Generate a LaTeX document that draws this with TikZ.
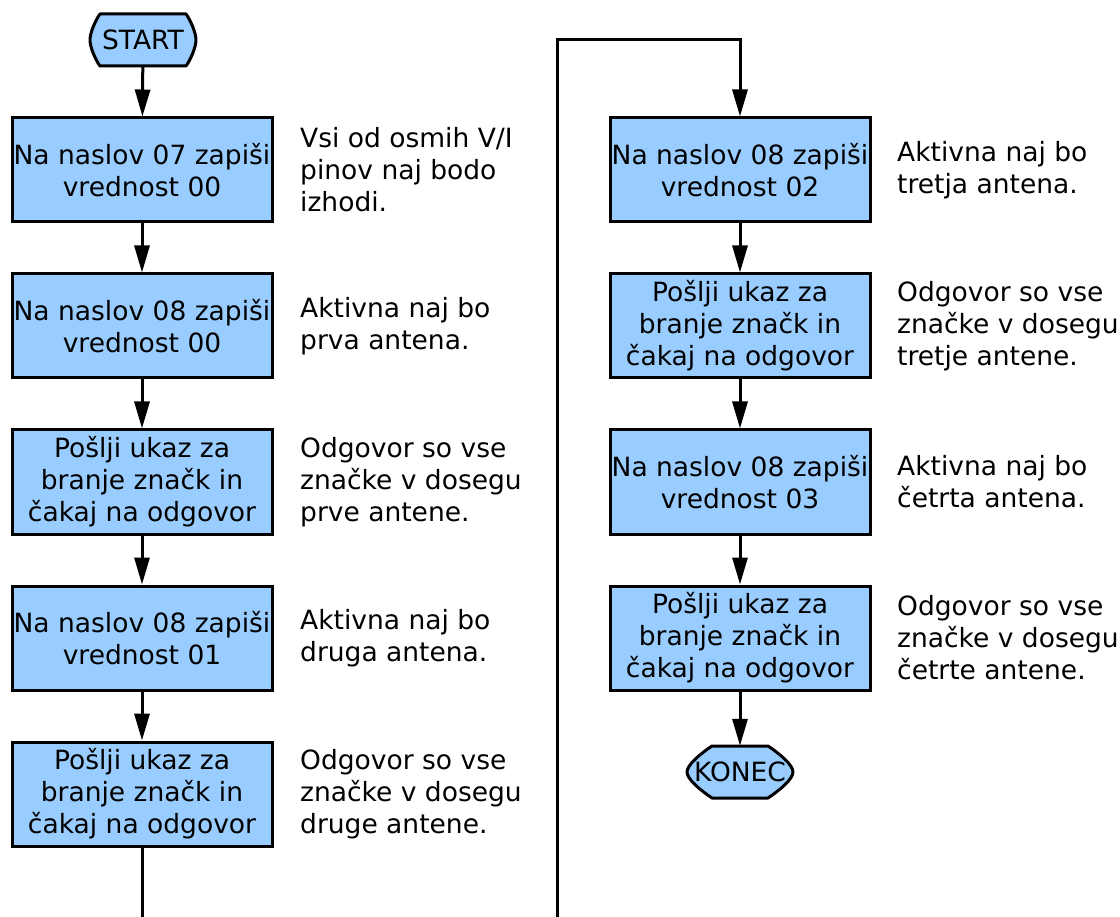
\documentclass[tikz,border=0pt]{standalone}
\usepackage{fontspec}
\setmainfont{DejaVu Sans}
\usetikzlibrary{arrows.meta}
\definecolor{boxblue}{HTML}{99CCFF}
\tikzset{
  every node/.style={font=\fontsize{26.5}{32}\selectfont, text=black},
  stepbox/.style={draw=black, fill=boxblue, line width=3pt, minimum width=260pt, minimum height=104pt, inner sep=0pt, align=center},
  termtext/.style={minimum width=106pt, minimum height=52pt, inner sep=0pt},
  termline/.style={draw=black, fill=boxblue, line width=3pt, line join=round},
  side/.style={anchor=west, align=left, inner sep=0pt},
  conn/.style={draw=black, line width=3pt},
  arr/.style={conn, -{Triangle[length=27pt,width=15pt]}}
}
\begin{document}
\begin{tikzpicture}[x=1pt,y=-1pt]
\useasboundingbox (0,0) rectangle (1120,917);
% terminals (shapes)
\path[termline] (100,14) -- (186,14) .. controls (191,21) and (196,33) .. (196,40) .. controls (196,47) and (191,59) .. (186,66) -- (100,66) .. controls (95,59) and (90,47) .. (90,40) .. controls (90,33) and (95,21) .. (100,14) -- cycle;
\node[termtext] (start) at (143,40) {START};
\path[termline] (712,746) -- (768,746) .. controls (780,754) and (793,765) .. (793,772) .. controls (793,779) and (780,790) .. (768,798) -- (712,798) .. controls (700,790) and (687,779) .. (687,772) .. controls (687,765) and (700,754) .. (712,746) -- cycle;
\node[termtext] (konec) at (740,772) {KONEC};
% left column
\node[stepbox] (l1) at (142,170) {Na naslov 07 zapiši\\vrednost 00};
\node[stepbox] (l2) at (142,326) {Na naslov 08 zapiši\\vrednost 00};
\node[stepbox] (l3) at (142,482) {Pošlji ukaz za\\branje značk in\\čakaj na odgovor};
\node[stepbox] (l4) at (142,638) {Na naslov 08 zapiši\\vrednost 01};
\node[stepbox] (l5) at (142,794) {Pošlji ukaz za\\branje značk in\\čakaj na odgovor};
\node[side] (t1) at (300,170) {Vsi od osmih V/I\\pinov naj bodo\\izhodi.};
\node[side] (t2) at (300,326) {Aktivna naj bo\\prva antena.};
\node[side] (t3) at (300,482) {Odgovor so vse\\značke v dosegu\\prve antene.};
\node[side] (t4) at (300,638) {Aktivna naj bo\\druga antena.};
\node[side] (t5) at (300,794) {Odgovor so vse\\značke v dosegu\\druge antene.};
% right column
\node[stepbox] (r1) at (740,170) {Na naslov 08 zapiši\\vrednost 02};
\node[stepbox] (r2) at (740,326) {Pošlji ukaz za\\branje značk in\\čakaj na odgovor};
\node[stepbox] (r3) at (740,482) {Na naslov 08 zapiši\\vrednost 03};
\node[stepbox] (r4) at (740,638) {Pošlji ukaz za\\branje značk in\\čakaj na odgovor};
\node[side] (s1) at (897,170) {Aktivna naj bo\\tretja antena.};
\node[side] (s2) at (897,326) {Odgovor so vse\\značke v dosegu\\tretje antene.};
\node[side] (s3) at (897,482) {Aktivna naj bo\\četrta antena.};
\node[side] (s4) at (897,638) {Odgovor so vse\\značke v dosegu\\četrte antene.};
% connectors
\draw[arr] (start) -- (l1);
\draw[arr] (l1) -- (l2);
\draw[arr] (l2) -- (l3);
\draw[arr] (l3) -- (l4);
\draw[arr] (l4) -- (l5);
\coordinate (lend) at (142,917);
\draw[conn] (l5) -- (lend);
\coordinate (rb) at (557,917);
\coordinate (rt) at (557,40);
\draw[arr] (rb) -- (rt) -| (r1);
\draw[arr] (r1) -- (r2);
\draw[arr] (r2) -- (r3);
\draw[arr] (r3) -- (r4);
\draw[arr] (r4) -- (konec);
\end{tikzpicture}
\end{document}
